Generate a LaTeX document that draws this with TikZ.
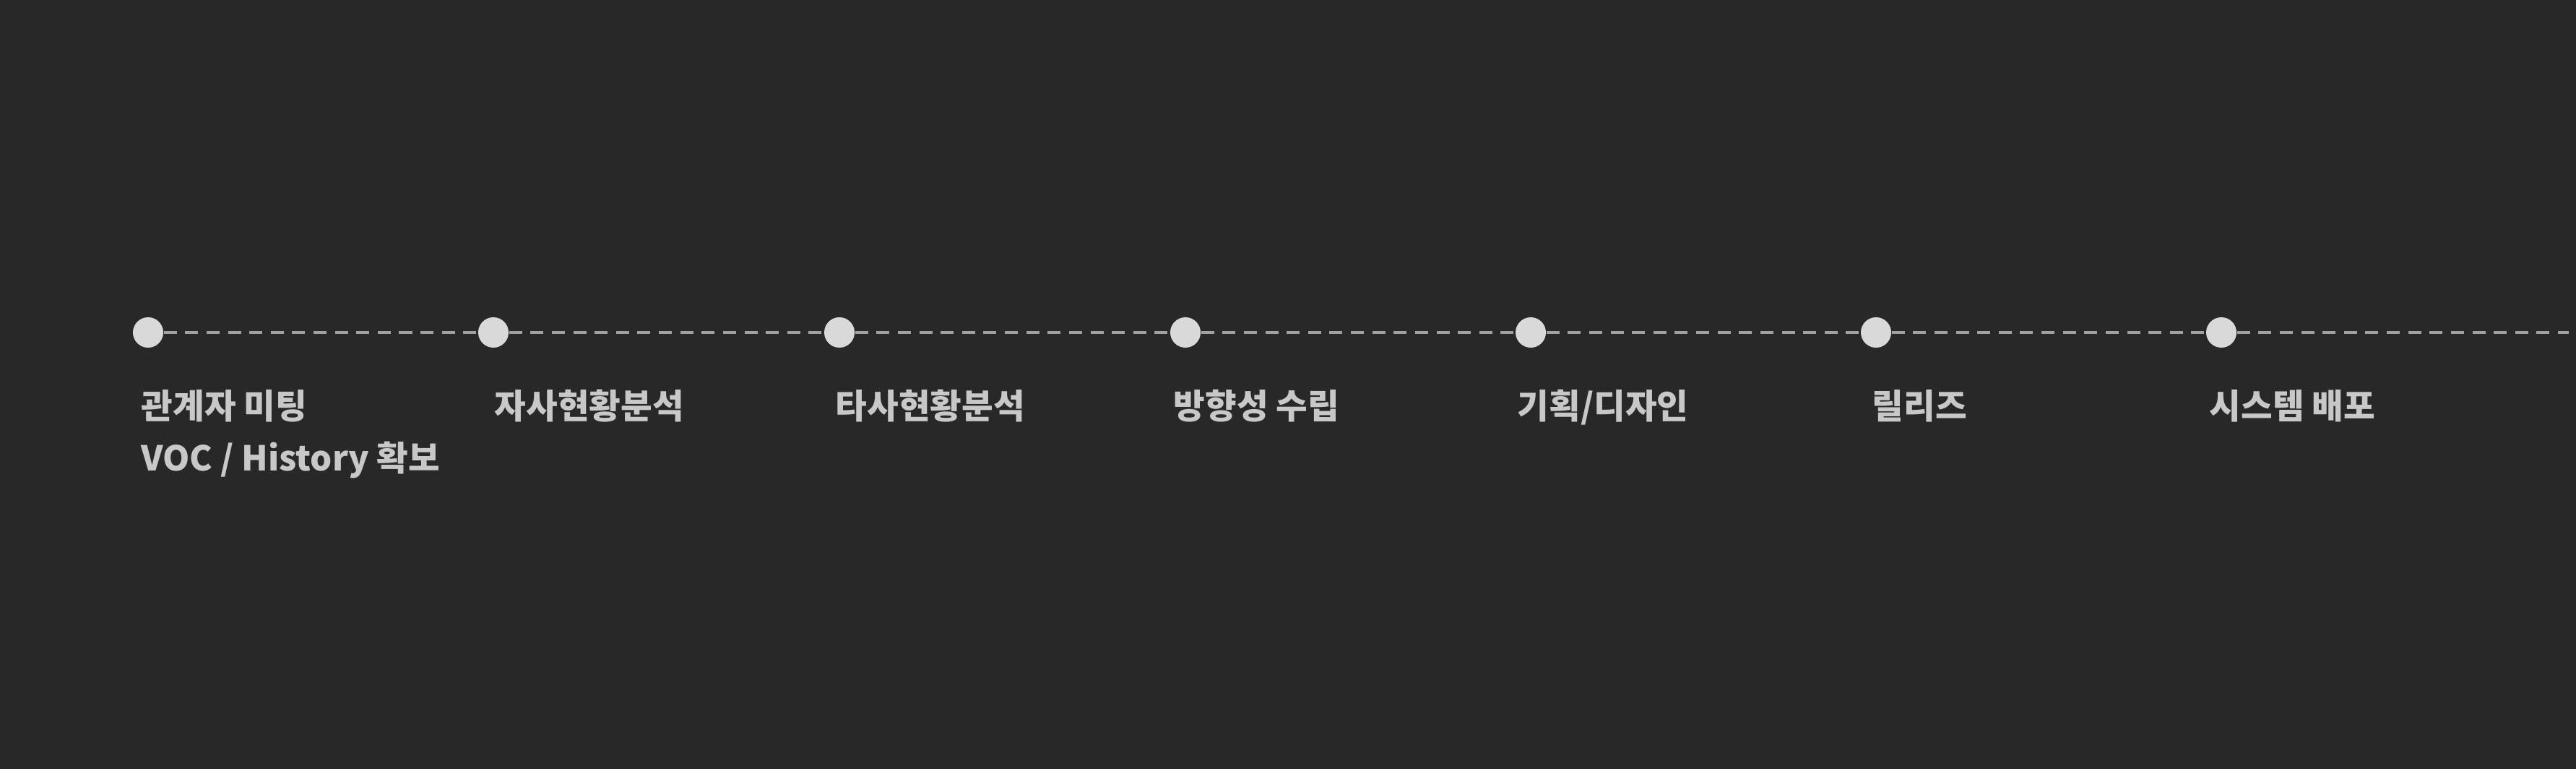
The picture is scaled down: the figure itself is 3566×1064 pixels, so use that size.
\documentclass[tikz,border=0pt]{standalone}
\usepackage{fontspec}
\setmainfont{Noto Sans CJK KR}
\usetikzlibrary{arrows.meta, positioning}
\definecolor{bgdark}{HTML}{282828}
\definecolor{dotgrey}{HTML}{D9D9D9}
\definecolor{labelgrey}{HTML}{C8C8C8}
\definecolor{dashgrey}{HTML}{A0A0A0}

\begin{document}
\begin{tikzpicture}[
  x=0.01cm, y=-0.01cm,
  milestone/.style={circle, fill=dotgrey, minimum size=0.42cm, inner sep=0pt},
  phase/.style={anchor=base west, inner sep=0pt, align=left, text=labelgrey, font=\fontsize{13.5pt}{20.5pt}\selectfont\bfseries},
  timeline/.style={draw=dashgrey, line width=0.035cm, dash pattern=on 0.18cm off 0.116cm}
]
  % Background
  \fill[bgdark] (0,0) rectangle (3566,1064);
  \useasboundingbox (0,0) rectangle (3566,1064);

  % Milestones
  \node[milestone] (m1) at (205,460) {};
  \node[milestone] (m2) at (683,460) {};
  \node[milestone] (m3) at (1162,460) {};
  \node[milestone] (m4) at (1641,460) {};
  \node[milestone] (m5) at (2119,460) {};
  \node[milestone] (m6) at (2597,460) {};
  \node[milestone] (m7) at (3075,460) {};
  \coordinate (lineend) at (3556,460);

  % Labels (base = last line)
  \node[phase] (p1) at (195,652) {관계자 미팅\\VOC / History 확보};
  \node[phase] (p2) at (684,580) {자사현황분석};
  \node[phase] (p3) at (1156,580) {타사현황분석};
  \node[phase] (p4) at (1624,580) {방향성 수립};
  \node[phase] (p5) at (2100,580) {기획/디자인};
  \node[phase] (p6) at (2591,580) {릴리즈};
  \node[phase] (p7) at (3058,580) {시스템 배포};

  % Timeline
  \draw[timeline] (m1.east) -- (m2.west);
  \draw[timeline] (m2.east) -- (m3.west);
  \draw[timeline] (m3.east) -- (m4.west);
  \draw[timeline] (m4.east) -- (m5.west);
  \draw[timeline] (m5.east) -- (m6.west);
  \draw[timeline] (m6.east) -- (m7.west);
  \draw[timeline] (m7.east) -- (lineend);
\end{tikzpicture}
\end{document}
